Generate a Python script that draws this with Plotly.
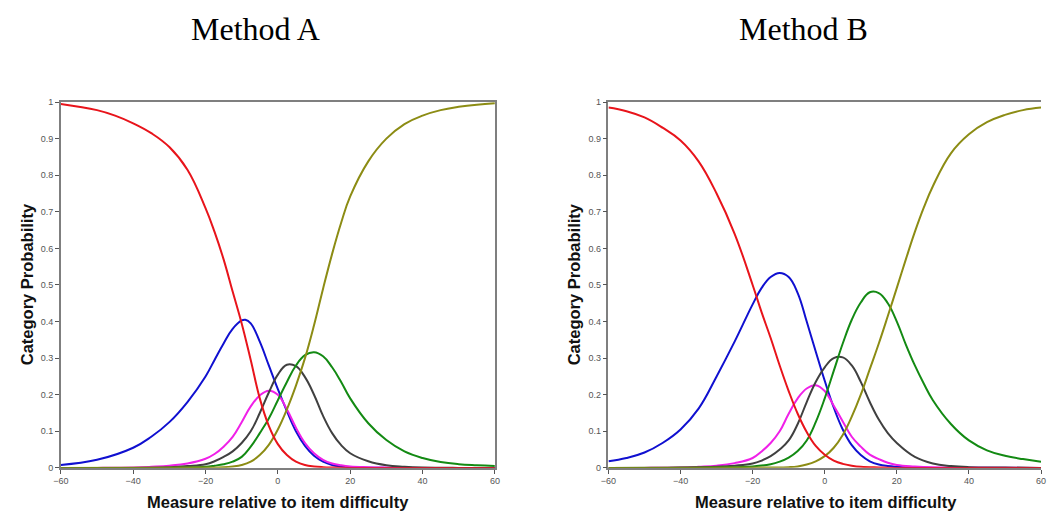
import plotly.graph_objects as go

# ---------------- Method A ----------------
red_A_x = [-60, -50, -45, -40, -35, -30, -25, -20, -17.5, -15, -12.5, -10, -7.5, -5, -2.5, 0, 2.5, 5, 7.5, 10, 12.5, 15, 20, 40, 60]
red_A_y = [0.995, 0.978, 0.963, 0.942, 0.915, 0.877, 0.815, 0.71, 0.645, 0.57, 0.482, 0.395, 0.295, 0.19, 0.115, 0.065, 0.035, 0.017, 0.008, 0.004, 0.002, 0.001, 0, 0, 0]

blue_A_x = [-60, -50, -40, -35, -30, -25, -20, -17.5, -15, -12.5, -10, -9, -7.5, -5, -2.5, 0, 2.5, 5, 7.5, 10, 12.5, 15, 17.5, 20, 30, 60]
blue_A_y = [0.008, 0.022, 0.055, 0.085, 0.125, 0.18, 0.25, 0.295, 0.34, 0.38, 0.403, 0.405, 0.395, 0.345, 0.28, 0.215, 0.155, 0.1, 0.06, 0.033, 0.017, 0.008, 0.004, 0.002, 0, 0]

magenta_A_x = [-60, -50, -40, -35, -30, -25, -20, -17.5, -15, -12.5, -10, -7.5, -5, -2.5, 0, 2.5, 5, 7.5, 10, 12.5, 15, 17.5, 20, 25, 30, 40, 60]
magenta_A_y = [0, 0, 0.001, 0.003, 0.006, 0.012, 0.025, 0.038, 0.058, 0.085, 0.125, 0.168, 0.198, 0.211, 0.2, 0.16, 0.11, 0.068, 0.04, 0.022, 0.012, 0.007, 0.004, 0.002, 0.001, 0, 0]

gray_A_x = [-60, -40, -30, -25, -20, -17.5, -15, -12.5, -10, -7.5, -5, -2.5, 0, 2.5, 5, 7.5, 10, 12.5, 15, 17.5, 20, 25, 30, 35, 40, 50, 60]
gray_A_y = [0, 0, 0.002, 0.005, 0.01, 0.018, 0.03, 0.045, 0.068, 0.1, 0.15, 0.206, 0.255, 0.282, 0.278, 0.248, 0.2, 0.142, 0.095, 0.062, 0.04, 0.018, 0.007, 0.003, 0.001, 0, 0]

green_A_x = [-60, -30, -25, -20, -17.5, -15, -12.5, -10, -7.5, -5, -2.5, 0, 2.5, 5, 7.5, 10, 12.5, 15, 17.5, 20, 25, 30, 35, 40, 45, 50, 55, 60]
green_A_y = [0, 0, 0.001, 0.003, 0.006, 0.01, 0.017, 0.03, 0.058, 0.095, 0.135, 0.185, 0.235, 0.28, 0.308, 0.316, 0.305, 0.275, 0.235, 0.19, 0.122, 0.076, 0.045, 0.027, 0.016, 0.01, 0.007, 0.005]

olive_A_x = [-60, -20, -15, -12.5, -10, -7.5, -5, -2.5, 0, 2.5, 5, 7.5, 10, 12.5, 15, 17.5, 20, 25, 30, 35, 40, 45, 50, 55, 60]
olive_A_y = [0, 0.001, 0.002, 0.004, 0.008, 0.017, 0.035, 0.063, 0.105, 0.16, 0.225, 0.3, 0.39, 0.49, 0.585, 0.67, 0.742, 0.838, 0.9, 0.94, 0.963, 0.978, 0.987, 0.993, 0.997]

# ---------------- Method B ----------------
red_B_x = [-60, -55, -50, -45, -40, -35, -30, -25, -20, -17.5, -15, -12.5, -10, -7.5, -5, -2.5, 0, 2.5, 5, 7.5, 10, 15, 20, 40, 60]
red_B_y = [0.985, 0.975, 0.958, 0.93, 0.895, 0.838, 0.75, 0.64, 0.5, 0.425, 0.355, 0.28, 0.21, 0.148, 0.098, 0.06, 0.036, 0.02, 0.011, 0.006, 0.003, 0.001, 0, 0, 0]

blue_B_x = [-60, -55, -50, -45, -40, -35, -30, -25, -20, -17.5, -15, -12.5, -10, -7.5, -5, -2.5, 0, 2.5, 5, 7.5, 10, 12.5, 15, 17.5, 20, 25, 30, 60]
blue_B_y = [0.018, 0.027, 0.042, 0.068, 0.105, 0.162, 0.25, 0.345, 0.447, 0.492, 0.522, 0.533, 0.522, 0.478, 0.4, 0.318, 0.238, 0.165, 0.105, 0.062, 0.035, 0.018, 0.009, 0.005, 0.003, 0.001, 0, 0]

magenta_B_x = [-60, -50, -40, -35, -30, -25, -20, -17.5, -15, -12.5, -10, -7.5, -5, -2.5, 0, 2.5, 5, 7.5, 10, 12.5, 15, 17.5, 20, 25, 30, 40, 60]
magenta_B_y = [0, 0, 0.001, 0.003, 0.006, 0.013, 0.027, 0.045, 0.068, 0.1, 0.148, 0.19, 0.217, 0.226, 0.21, 0.17, 0.127, 0.085, 0.058, 0.036, 0.024, 0.014, 0.008, 0.004, 0.002, 0.001, 0]

gray_B_x = [-60, -40, -30, -25, -20, -17.5, -15, -12.5, -10, -7.5, -5, -2.5, 0, 2.5, 5, 7.5, 10, 12.5, 15, 17.5, 20, 25, 30, 35, 40, 50, 60]
gray_B_y = [0, 0.001, 0.003, 0.006, 0.012, 0.02, 0.032, 0.05, 0.075, 0.12, 0.18, 0.235, 0.275, 0.3, 0.302, 0.28, 0.235, 0.18, 0.132, 0.095, 0.068, 0.03, 0.012, 0.005, 0.002, 0.001, 0]

green_B_x = [-60, -30, -20, -15, -12.5, -10, -7.5, -5, -2.5, 0, 2.5, 5, 7.5, 10, 12.5, 15, 17.5, 20, 22.5, 25, 27.5, 30, 35, 40, 45, 50, 55, 60]
green_B_y = [0, 0.001, 0.004, 0.01, 0.017, 0.028, 0.046, 0.075, 0.125, 0.19, 0.265, 0.34, 0.405, 0.452, 0.48, 0.478, 0.45, 0.4, 0.337, 0.28, 0.23, 0.185, 0.12, 0.075, 0.048, 0.033, 0.024, 0.017]

olive_B_x = [-60, -15, -10, -7.5, -5, -2.5, 0, 2.5, 5, 7.5, 10, 12.5, 15, 17.5, 20, 22.5, 25, 27.5, 30, 35, 40, 45, 50, 55, 60]
olive_B_y = [0, 0.001, 0.002, 0.004, 0.009, 0.018, 0.032, 0.055, 0.09, 0.14, 0.2, 0.27, 0.34, 0.415, 0.492, 0.57, 0.645, 0.712, 0.77, 0.86, 0.912, 0.945, 0.965, 0.978, 0.985]

titles = ["Method A", "Method B"]
x_title = "Measure relative to item difficulty"
y_title = "Category Probability"
x_ticks = [-60, -40, -20, 0, 20, 40, 60]
y_ticks = [0, 0.1, 0.2, 0.3, 0.4, 0.5, 0.6, 0.7, 0.8, 0.9, 1]
y_tick_text = ["0", "0.1", "0.2", "0.3", "0.4", "0.5", "0.6", "0.7", "0.8", "0.9", "1"]

colors = {"red": "#e8141b", "blue": "#1010d0", "magenta": "#f020e8",
          "gray": "#404040", "green": "#138a13", "olive": "#8c8c14"}

series_A = [("blue", blue_A_x, blue_A_y), ("magenta", magenta_A_x, magenta_A_y),
            ("gray", gray_A_x, gray_A_y), ("green", green_A_x, green_A_y),
            ("olive", olive_A_x, olive_A_y), ("red", red_A_x, red_A_y)]
series_B = [("blue", blue_B_x, blue_B_y), ("magenta", magenta_B_x, magenta_B_y),
            ("gray", gray_B_x, gray_B_y), ("green", green_B_x, green_B_y),
            ("olive", olive_B_x, olive_B_y), ("red", red_B_x, red_B_y)]

fig = go.Figure()
for name, xs, ys in series_A:
    fig.add_trace(go.Scatter(x=xs, y=ys, mode="lines", xaxis="x", yaxis="y",
                             line=dict(color=colors[name], width=2, shape="spline", smoothing=1.2),
                             showlegend=False, hoverinfo="skip"))
for name, xs, ys in series_B:
    fig.add_trace(go.Scatter(x=xs, y=ys, mode="lines", xaxis="x2", yaxis="y2",
                             line=dict(color=colors[name], width=2, shape="spline", smoothing=1.2),
                             showlegend=False, hoverinfo="skip"))

W, H = 1047, 517
axis_common = dict(showgrid=False, zeroline=False, showline=True, linecolor="#7f7f7f",
                   linewidth=1.5, ticks="outside", ticklen=4, tickcolor="#555",
                   tickfont=dict(family="Arial, Liberation Sans", size=9, color="#555"))
ydom = [1 - 472 / H, 1 - 99 / H]

fig.update_layout(
    width=W, height=H, margin=dict(l=0, r=0, t=0, b=0),
    paper_bgcolor="white", plot_bgcolor="white",
    xaxis=dict(domain=[53.5 / W, 493 / W], range=[-60, 60], tickvals=x_ticks, anchor="y",
               mirror=True, **axis_common),
    yaxis=dict(domain=ydom, range=[0, 1], tickvals=y_ticks, ticktext=y_tick_text, anchor="x",
               mirror=True, **axis_common),
    # the right panel runs to the picture's right edge, as in the source image
    xaxis2=dict(domain=[608 / W, 1046 / W], range=[-60, 60], tickvals=x_ticks, anchor="y2",
                mirror=True, **axis_common),
    yaxis2=dict(domain=ydom, range=[0, 1], tickvals=y_ticks, ticktext=y_tick_text, anchor="x2",
                mirror=False, **axis_common),
)


def px(x, y):
    return x / W, 1 - y / H


ann = []
for cx, t in [(251, titles[0]), (806, titles[1])]:
    ax, ay = px(cx, 24)
    ann.append(dict(text=t, x=ax, y=ay, xref="paper", yref="paper", showarrow=False,
                    xanchor="center", yanchor="middle",
                    font=dict(family="Liberation Serif, Times New Roman", size=32, color="black")))
for cx in [273, 828]:
    ax, ay = px(cx, 507)
    ann.append(dict(text="<b>" + x_title + "</b>", x=ax, y=ay, xref="paper", yref="paper",
                    showarrow=False, xanchor="center", yanchor="middle",
                    font=dict(family="Arial, Liberation Sans", size=16.5, color="#111")))
for cx in [20, 574]:
    ax, ay = px(cx, 285)
    ann.append(dict(text="<b>" + y_title + "</b>", x=ax, y=ay, xref="paper", yref="paper",
                    showarrow=False, xanchor="center", yanchor="middle", textangle=-90,
                    font=dict(family="Arial, Liberation Sans", size=16.5, color="#111")))
fig.update_layout(annotations=ann)

fig.write_html("out.html", config={"displayModeBar": False},
               post_script="document.body.style.margin='0';")
